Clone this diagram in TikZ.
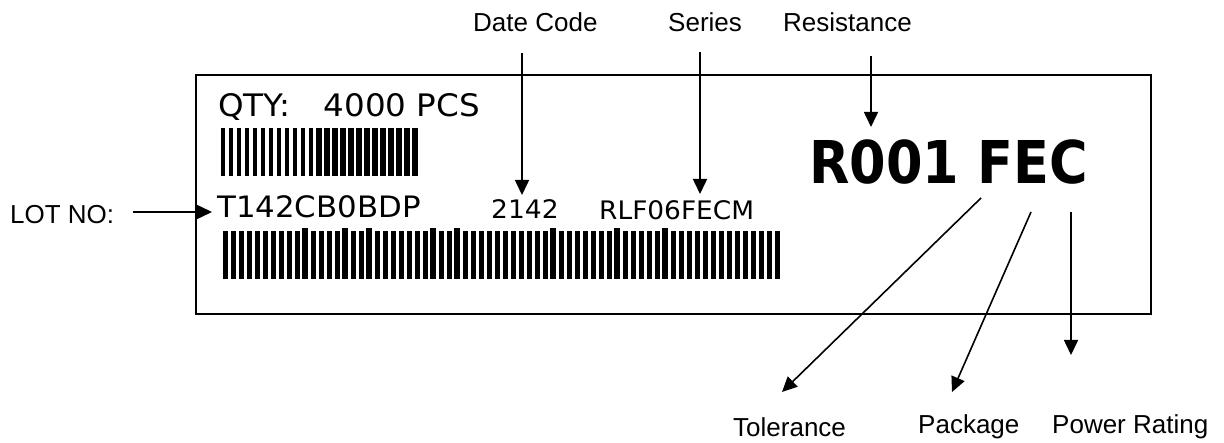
\documentclass[tikz,border=0pt]{standalone}
\usepackage{fontspec}
\setmainfont{Liberation Sans}
\newfontfamily\tagfont{DejaVu Sans}
\usetikzlibrary{arrows.meta}

\tikzset{
    pointer/.style={line width=1.6pt, -{Triangle[length=15pt,width=14pt]}},
    callout/.style={inner sep=0pt, anchor=base west, font=\fontsize{26}{30}\selectfont},
    tagtext/.style={inner sep=0pt, anchor=base west},
}

\begin{document}
\begin{tikzpicture}[x=1pt, y=-1pt]
    \useasboundingbox (0,0) rectangle (1224,443);

    % Reel label
    \draw[line width=1.5pt] (196,75) rectangle (1151,314);

    % Printed text
    \node[tagtext, xscale=1.05, font=\tagfont\fontsize{31}{36}\selectfont] (qty) at (218,117) {QTY:\hspace{32pt}4000 PCS};
    \node[tagtext, xscale=1.045, font=\tagfont\fontsize{29.5}{36}\selectfont] (lotnum) at (217,218) {T142CB0BDP};
    \node[tagtext, xscale=1.04, font=\tagfont\fontsize{25.5}{30}\selectfont] (datenum) at (491,219) {2142};
    \node[tagtext, xscale=1.035, font=\tagfont\fontsize{25.5}{30}\selectfont] (seriesnum) at (599,220) {RLF06FECM};
    \node[tagtext, xscale=0.89, font=\tagfont\bfseries\fontsize{59}{64}\selectfont] (partcode) at (809,184) {R001 FEC};

    % Barcodes
    \foreach \i in {0,...,11} \fill (221+8*\i,128) rectangle ++(4,48);
    \foreach \i in {12,...,24} \fill (220+8*\i,128) rectangle ++(5.5,48);
    \foreach \i in {0,...,69} \fill (223+8*\i,231) rectangle ++(4.5,48);
    \foreach \i in {10,15,18,26,29,41,49,55} \fill (222+8*\i,228) rectangle ++(6,51);

    % Callouts
    \node[callout] (lotlbl) at (10,224) {LOT NO:};
    \node[callout] (datelbl) at (473,32) {Date Code};
    \node[callout] (serieslbl) at (668,32) {Series};
    \node[callout] (reslbl) at (783,32) {Resistance};
    \node[callout] (tollbl) at (733,437) {Tolerance};
    \node[callout] (pkglbl) at (918,434) {Package};
    \node[callout] (pwrlbl) at (1052,434) {Power Rating};

    % Arrow ends
    \coordinate (lotA) at (133,212);  \coordinate (lotB) at (212,212);
    \coordinate (dateA) at (522,53);  \coordinate (dateB) at (522,195);
    \coordinate (serA) at (700,52);   \coordinate (serB) at (700,194);
    \coordinate (resA) at (871,56);   \coordinate (resB) at (871,127);
    \coordinate (tolA) at (981,198);  \coordinate (tolB) at (782,392);
    \coordinate (pkgA) at (1031,212); \coordinate (pkgB) at (952,392);
    \coordinate (pwrA) at (1071,212); \coordinate (pwrB) at (1071,355);

    \draw[pointer] (lotA) -- (lotB);
    \draw[pointer] (dateA) -- (dateB);
    \draw[pointer] (serA) -- (serB);
    \draw[pointer] (resA) -- (resB);
    \draw[pointer] (tolA) -- (tolB);
    \draw[pointer] (pkgA) -- (pkgB);
    \draw[pointer] (pwrA) -- (pwrB);
\end{tikzpicture}
\end{document}
